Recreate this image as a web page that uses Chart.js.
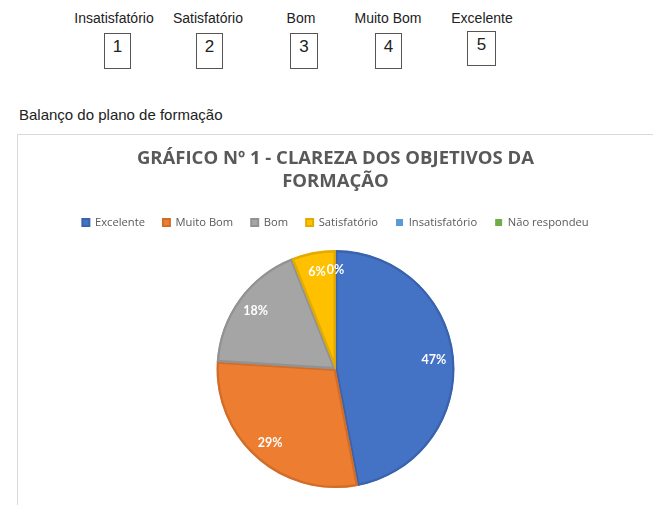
<!DOCTYPE html>
<html><head><meta charset="utf-8">
<script src="https://cdn.jsdelivr.net/npm/chart.js@4"></script>
<style>
html,body{margin:0;padding:0;background:#fff;width:653px;height:505px;overflow:hidden;position:relative;}
.lbl{position:absolute;font-family:"Liberation Sans",Arial,sans-serif;font-size:14px;color:#222;white-space:nowrap;transform:translateX(-50%);line-height:20px;top:8px;}
.box{position:absolute;border:1px solid #555;box-sizing:border-box;font-family:"Liberation Sans",Arial,sans-serif;font-size:17px;color:#222;text-align:center;line-height:26px;}
#sub{position:absolute;left:19px;top:105px;font-family:"Liberation Sans",Arial,sans-serif;font-size:15px;color:#222;line-height:20px;white-space:nowrap;}
#frame{position:absolute;left:17px;top:134px;width:700px;height:420px;border:1px solid #d9d9d9;box-sizing:border-box;}
#c{position:absolute;left:18px;top:135px;}
</style>
</head><body>
<div id="hdr"></div>
<div id="sub">Balanço do plano de formação</div>
<div id="frame"></div>
<canvas id="c" width="645" height="420"></canvas>
<script>
// Scale shown above the chart
const scaleLabels = ['Insatisfatório', 'Satisfatório', 'Bom', 'Muito Bom', 'Excelente'];
const scaleNumbers = ['1', '2', '3', '4', '5'];

// Chart data
const chartTitle = ['GRÁFICO Nº 1 - CLAREZA DOS OBJETIVOS DA', 'FORMAÇÃO'];
const categories = ['Excelente', 'Muito Bom', 'Bom', 'Satisfatório', 'Insatisfatório', 'Não respondeu'];
const percentages = [47, 29, 18, 6, 0, 0];

// layout (positions only)
const labelCenters = [114, 208, 301, 388, 482];
const boxRects = [[104,33,27,36],[196,33,27,36],[290,33,28,36],[375,33,27,36],[467,31,29,35]];
const hdr = document.getElementById('hdr');
scaleLabels.forEach((t, i) => {
  const d = document.createElement('div');
  d.className = 'lbl'; d.textContent = t; d.style.left = labelCenters[i] + 'px';
  hdr.appendChild(d);
  const b = document.createElement('div');
  const r = boxRects[i];
  b.className = 'box'; b.textContent = scaleNumbers[i];
  b.style.left = r[0] + 'px'; b.style.top = r[1] + 'px'; b.style.width = r[2] + 'px'; b.style.height = r[3] + 'px';
  hdr.appendChild(b);
});

const fills = ['#4472C4', '#ED7D31', '#A5A5A5', '#FFC000', '#5B9BD5', '#70AD47'];
const edges = ['#3A63AE', '#D26D29', '#929292', '#E3AB00', '#4F88BC', '#5F983C'];

const pctLabels = {
  id: 'pctLabels',
  afterDatasetsDraw(chart) {
    const ctx = chart.ctx;
    const meta = chart.getDatasetMeta(0);
    const data = chart.data.datasets[0].data;
    const total = data.reduce((a, b) => a + b, 0);
    ctx.save();
    ctx.font = 'bold 12.5px Lato, "Open Sans", sans-serif';
    ctx.fillStyle = '#ffffff';
    ctx.textAlign = 'center';
    ctx.textBaseline = 'middle';
    const seen = new Set();
    meta.data.forEach((arc, i) => {
      const p = arc.getProps(['x', 'y', 'startAngle', 'endAngle', 'outerRadius'], true);
      const mid = (p.startAngle + p.endAngle) / 2;
      const r = p.outerRadius * 0.83;
      const x = p.x + Math.cos(mid) * r;
      const y = p.y + Math.sin(mid) * r;
      const key = Math.round(x) + ',' + Math.round(y);
      if (seen.has(key)) return;
      seen.add(key);
      ctx.fillText(Math.round(data[i] / total * 100) + '%', x, y);
    });
    ctx.restore();
  }
};

new Chart(document.getElementById('c'), {
  type: 'pie',
  data: {
    labels: categories,
    datasets: [{
      data: percentages,
      backgroundColor: fills,
      borderColor: edges,
      borderWidth: [2, 2, 2, 2, 0, 0],
      borderAlign: 'inner',
      hoverOffset: 0
    }]
  },
  options: {
    responsive: false,
    animation: false,
    radius: 119,
    layout: { padding: { bottom: 55, left: 0, right: 10 } },
    plugins: {
      title: {
        display: true,
        text: chartTitle,
        color: '#595959',
        font: { family: '"Open Sans", sans-serif', size: 18.5, weight: 'bold', lineHeight: 23 / 18.5 },
        padding: { top: 12, bottom: 6 }
      },
      legend: {
        display: true,
        position: 'top',
        labels: {
          color: '#595959',
          font: { family: '"Open Sans", sans-serif', size: 11.2 },
          boxWidth: 7,
          boxHeight: 7,
          padding: 18
        }
      },
      tooltip: { enabled: false }
    }
  },
  plugins: [pctLabels]
});
</script>
</body></html>
